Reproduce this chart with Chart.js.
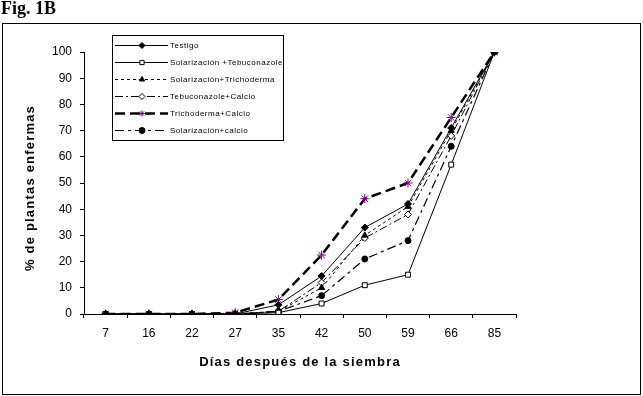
<!DOCTYPE html>
<html>
<head>
<meta charset="utf-8">
<script src="https://cdn.jsdelivr.net/npm/chart.js@4"></script>
<style>
  html, body { margin: 0; padding: 0; background: #fff; }
  canvas { display: block; }
</style>
</head>
<body>
<canvas id="chart" width="643" height="396"></canvas>
<script>
const days = ['7', '16', '22', '27', '35', '42', '50', '59', '66', '85'];

const testigo        = [0, 0, 0, 0,   3.5, 14.5, 33, 42, 71, 100];
const solTebuconaz   = [0, 0, 0, 0,   0.5, 4,    11, 15, 57, 100];
const solTrichoderma = [0, 0, 0, 0,   1,   10,   30, 41, 70, 100];
const tebuCalcio     = [0, 0, 0, 0,   1,   12,   29, 38, 68, 100];
const trichoCalcio   = [0, 0, 0, 0.5, 5.5, 22.5, 44, 50, 75, 100];
const solCalcio      = [0, 0, 0, 0,   1,   7,    21, 28, 64, 100];

const seriesNames = [
    'Testigo',
    'Solarización +Tebuconazole',
    'Solarización+Trichoderma',
    'Tebuconazole+Calcio',
    'Trichoderma+Calcio',
    'Solarización+calcio'
];

const yTicks = [0, 10, 20, 30, 40, 50, 60, 70, 80, 90, 100];

const FONT = "'Liberation Sans', Arial, sans-serif";

function line(label, data, extra) {
    return Object.assign({
        label,
        data,
        borderColor: '#000',
        borderWidth: 1,
        backgroundColor: '#000',
        pointBorderColor: '#000',
        pointBackgroundColor: '#000',
        pointBorderWidth: 1,
        pointRadius: 3,
        tension: 0,
        fill: false
    }, extra);
}

const datasets = [
    line(seriesNames[0], testigo, { pointStyle: 'rectRot', pointRadius: 3.5 }),
    line(seriesNames[1], solTebuconaz, { pointStyle: 'rect', pointRadius: 3.5, pointBackgroundColor: '#fff' }),
    line(seriesNames[2], solTrichoderma, { pointStyle: 'triangle', pointRadius: 3.5, borderDash: [3, 3] }),
    line(seriesNames[3], tebuCalcio, { pointStyle: 'rectRot', pointRadius: 3.5, pointBackgroundColor: '#fff', borderDash: [8, 3, 2, 3] }),
    line(seriesNames[4], trichoCalcio, { pointStyle: 'star', pointRadius: 4.5, pointBorderColor: '#800080', pointBorderWidth: 1, borderWidth: 2.5, borderDash: [10, 5] }),
    line(seriesNames[5], solCalcio, { pointStyle: 'circle', pointRadius: 3, borderWidth: 1.2, borderDash: [9, 4, 3, 4] })
];

// frame, figure label, axis titles and the in-plot legend
const decorations = {
    id: 'decorations',
    beforeDraw(chart) {
        const ctx = chart.ctx;
        ctx.save();
        ctx.fillStyle = '#fff';
        ctx.fillRect(0, 0, chart.width, chart.height);
        ctx.restore();
    },
    afterDraw(chart) {
        const ctx = chart.ctx;
        const area = chart.chartArea;
        ctx.save();

        ctx.strokeStyle = '#000';
        ctx.lineWidth = 1;
        ctx.setLineDash([]);
        ctx.strokeRect(2.5, 23.5, 638, 371);

        ctx.fillStyle = '#000';
        ctx.font = "bold 18px 'Liberation Serif', 'Times New Roman', serif";
        ctx.textAlign = 'left';
        ctx.textBaseline = 'alphabetic';
        ctx.fillText('Fig. 1B', 1, 14);

        ctx.font = 'bold 13px ' + FONT;
        ctx.letterSpacing = '1.2px';
        ctx.textAlign = 'center';
        ctx.textBaseline = 'middle';
        ctx.fillText('Días después de la siembra', (area.left + area.right) / 2, 362);

        ctx.save();
        ctx.translate(30, 188);
        ctx.rotate(-Math.PI / 2);
        ctx.fillText('% de plantas enfermas', 0, 0);
        ctx.restore();

        // legend
        const box = { x: 112.5, y: 35.5, w: 171, h: 105 };
        ctx.fillStyle = '#fff';
        ctx.fillRect(box.x, box.y, box.w, box.h);
        ctx.strokeStyle = '#000';
        ctx.lineWidth = 1;
        ctx.strokeRect(box.x, box.y, box.w, box.h);

        ctx.font = '8px ' + FONT;
        ctx.letterSpacing = '0.5px';
        ctx.textAlign = 'left';
        ctx.textBaseline = 'middle';
        chart.data.datasets.forEach((ds, i) => {
            const y = 45.5 + i * 17;
            ctx.strokeStyle = ds.borderColor;
            ctx.lineWidth = ds.borderWidth;
            ctx.setLineDash(ds.borderDash || []);
            ctx.beginPath();
            ctx.moveTo(115, y);
            ctx.lineTo(168, y);
            ctx.stroke();
            ctx.setLineDash([]);
            ctx.fillStyle = ds.pointBackgroundColor;
            ctx.strokeStyle = ds.pointBorderColor;
            ctx.lineWidth = ds.pointBorderWidth;
            Chart.helpers.drawPoint(ctx, {
                pointStyle: ds.pointStyle,
                radius: Math.min(ds.pointRadius, 3),
                rotation: 0,
                borderWidth: ds.pointBorderWidth
            }, 142, y);
            ctx.fillStyle = '#000';
            ctx.fillText(ds.label, 170, y + 0.5);
        });

        ctx.restore();
    }
};

new Chart(document.getElementById('chart'), {
    type: 'line',
    data: { labels: days, datasets },
    options: {
        responsive: false,
        animation: false,
        layout: { padding: { left: 44, top: 52, right: 127, bottom: 52 } },
        plugins: {
            legend: { display: false },
            tooltip: { enabled: false }
        },
        scales: {
            x: {
                type: 'category',
                offset: true,
                afterFit(scale) { scale.height = 30; },
                grid: {
                    offset: true,
                    drawOnChartArea: false,
                    drawTicks: true,
                    tickLength: 4,
                    color: '#000',
                    lineWidth: 1
                },
                border: { display: true, color: '#000', width: 1 },
                ticks: {
                    color: '#000',
                    padding: 8,
                    maxRotation: 0,
                    autoSkip: false,
                    font: { family: FONT, size: 12 }
                }
            },
            y: {
                min: 0,
                max: 100,
                afterFit(scale) { scale.width = 40; },
                afterBuildTicks(scale) { scale.ticks = yTicks.map(v => ({ value: v })); },
                grid: {
                    drawOnChartArea: false,
                    drawTicks: true,
                    tickLength: 4,
                    color: '#000',
                    lineWidth: 1
                },
                border: { display: true, color: '#000', width: 1 },
                ticks: {
                    color: '#000',
                    padding: 8,
                    font: { family: FONT, size: 12 }
                }
            }
        }
    },
    plugins: [decorations]
});
</script>
</body>
</html>
